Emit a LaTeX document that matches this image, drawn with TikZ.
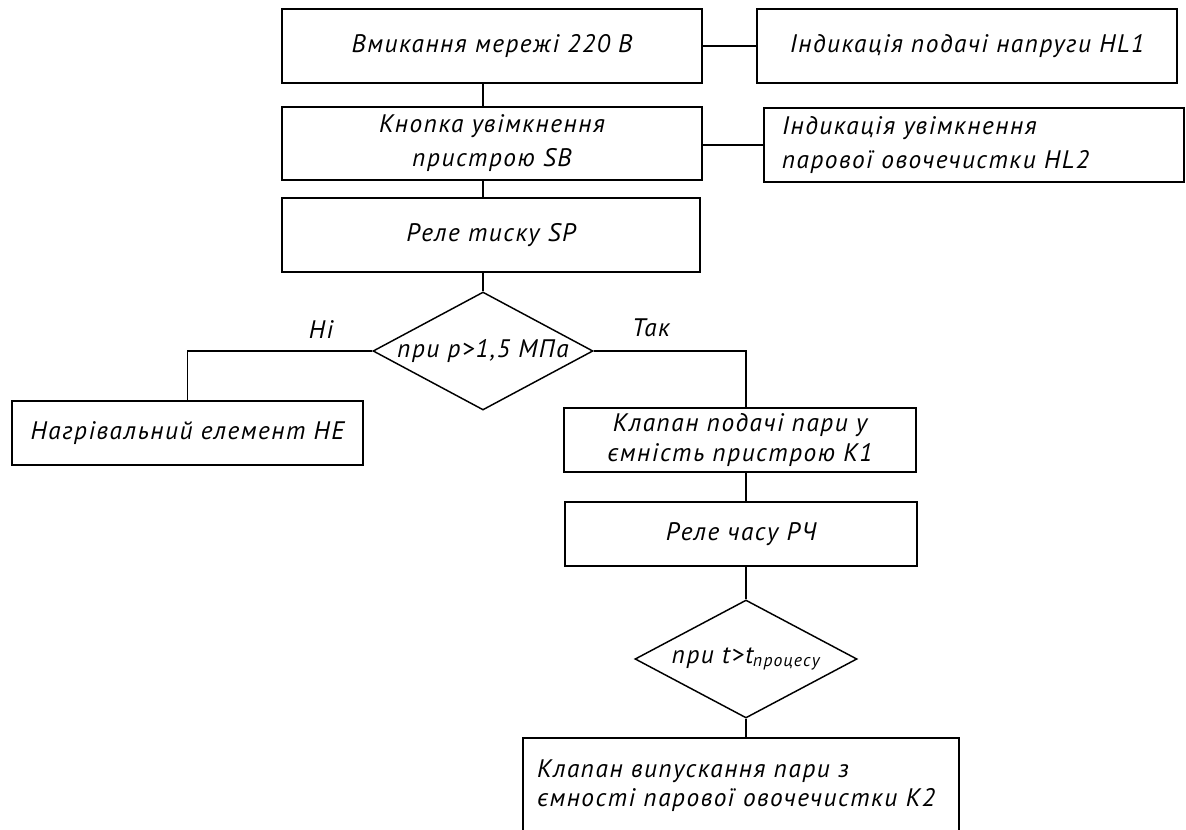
\documentclass[tikz,border=0pt]{standalone}
\usepackage{fontspec}
\newfontfamily\gostfont{PT Sans}[LetterSpace=6]
\usetikzlibrary{shapes.geometric,positioning}

\begin{document}
\begin{tikzpicture}[
    x=0.75pt, y=-0.75pt,
    block/.style={rectangle, draw, line width=1.7pt, inner sep=0pt, align=center,
        font=\gostfont\itshape\fontsize{19}{25.5}\selectfont},
    decide/.style={diamond, draw, line width=1.1pt, inner sep=0pt,
        font=\gostfont\itshape\fontsize{19}{25.5}\selectfont},
    lbl/.style={font=\gostfont\itshape\fontsize{19}{25.5}\selectfont, inner sep=0pt},
    wire/.style={line width=1.3pt}
]
\useasboundingbox (0,0) rectangle (1186,830);
\clip (0,0) rectangle (1186,830);

% main column
\node[block, minimum width=315pt, minimum height=55.5pt] (net) at (492,46) {Вмикання мережі 220 В};
\node[block, minimum width=315pt, minimum height=54.75pt] (sb) at (492,143.5) {Кнопка увімкнення\\пристрою SB};
\node[block, minimum width=313.5pt, minimum height=55.5pt] (sp) at (491,235) {Реле тиску SP};
\node[decide, minimum width=165pt, minimum height=88.5pt] (d1) at (483,351) {\makebox[0pt]{при p>1,5 МПа}};

% indication
\node[block, minimum width=315pt, minimum height=55.5pt] (hl1) at (967,46) {Індикація подачі напруги HL1};
\node[block, minimum width=315pt, minimum height=55.5pt, text width=288pt, align=left] (hl2) at (974,145) {Індикація увімкнення\\парової овочечистки HL2};

% branches
\node[block, minimum width=263.25pt, minimum height=48pt] (he) at (187.5,433) {Нагрівальний елемент НЕ};
\node[block, minimum width=264pt, minimum height=48pt, font=\gostfont\itshape\fontsize{19}{22.5}\selectfont] (k1) at (740,440) {Клапан подачі пари у\\ємність пристрою К1};
\node[block, minimum width=264pt, minimum height=48pt] (rch) at (741,534) {Реле часу РЧ};
\node[decide, minimum width=166.5pt, minimum height=88.5pt] (d2) at (746,659) {\makebox[0pt]{при t>t\textsubscript{процесу}}};
\node[block, minimum width=327pt, minimum height=71.25pt, text width=306pt, align=left,
    font=\gostfont\itshape\fontsize{19}{21.75}\selectfont] (k2) at (741,785.5) {Клапан випускання пари з\\ємності парової овочечистки К2};

\node[lbl] (no) at (321,330) {Ні};
\node[lbl] (yes) at (651,328) {Так};

% connections
\draw[wire] (net.east) -- (hl1.west);
\draw[wire] (hl2.west) -- (hl2.west -| sb.east);
\draw[wire] (net.south -| d1.north) -- (sb.north -| d1.north);
\draw[wire] (sb.south -| d1.north) -- (sp.north -| d1.north);
\draw[wire] (sp.south -| d1.north) -- (d1.north);
\draw[wire] (d1.west) -| (he.north);
\draw[wire] (d1.east) -| (d2.north |- k1.north);
\draw[wire] (k1.south -| d2.north) -- (rch.north -| d2.north);
\draw[wire] (rch.south -| d2.north) -- (d2.north);
\draw[wire] (d2.south) -- (k2.north -| d2.south);

\end{tikzpicture}
\end{document}
